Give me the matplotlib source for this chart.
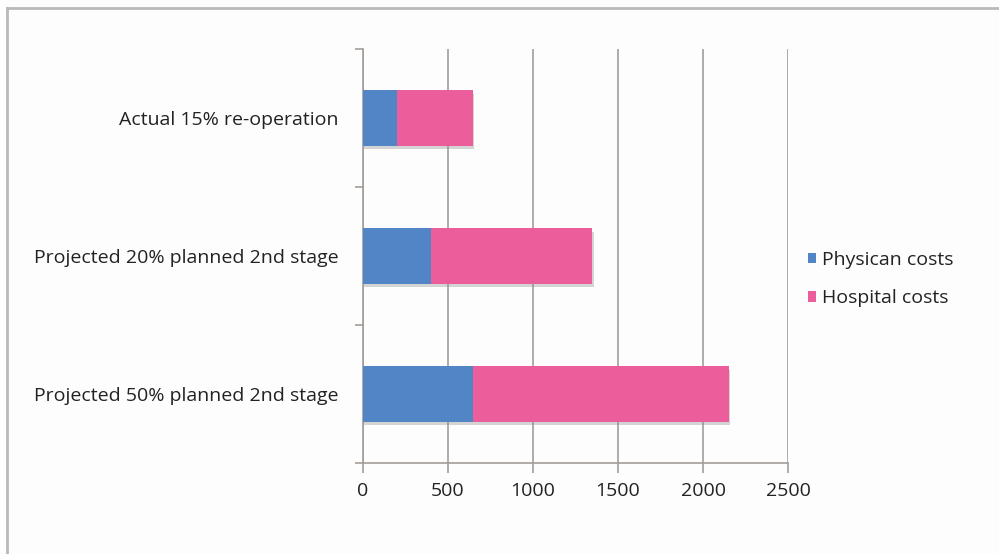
import matplotlib
matplotlib.use("Agg")
import matplotlib.pyplot as plt
import matplotlib.patheffects as pe
from matplotlib.lines import Line2D
import numpy as np

categories = ["Actual 15% re-operation", "Projected 20% planned 2nd stage", "Projected 50% planned 2nd stage"]
physician = [200, 400, 650]
hospital = [450, 950, 1500]
series_names = ["Physican costs", "Hospital costs"]
xticks = [0, 500, 1000, 1500, 2000, 2500]

blue = "#5285c6"
pink = "#ec5e9b"
grid_c = "#a39d99"

plt.rcParams['font.family'] = ['Open Sans', 'DejaVu Sans']

fig = plt.figure(figsize=(9.99, 5.54), dpi=100)
fig.patch.set_facecolor("#fdfdfd")

# outer frame
W, H = 999, 554
fig.add_artist(Line2D([7/W, 7/W], [0, 1 - 8/H], transform=fig.transFigure, color="#b9b9bd", lw=2))
fig.add_artist(Line2D([7/W, 1], [1 - 8/H, 1 - 8/H], transform=fig.transFigure, color="#b9b9bd", lw=2))

ax = fig.add_axes([362.5/W, 1 - 463/H, (788.3 - 362.5)/W, (463 - 49)/H])
ax.set_facecolor("#fdfdfd")

y = np.arange(len(categories))
shadow = [pe.SimplePatchShadow(offset=(0.8, -2.5), shadow_rgbFace="#888888", alpha=0.35), pe.Normal()]
b1 = ax.barh(y, physician, height=0.4, color=blue, label=series_names[0], zorder=3)
b2 = ax.barh(y, hospital, left=physician, height=0.4, color=pink, label=series_names[1], zorder=3)
for bars in (b1, b2):
    for b in bars:
        b.set_path_effects(shadow)

ax.set_xlim(0, 2500)
ax.set_ylim(len(categories) - 0.5, -0.5)
ax.set_xticks(xticks)
ax.set_xticklabels([str(v) for v in xticks])
ax.xaxis.grid(True, color=grid_c, lw=1.2, zorder=0)
ax.set_axisbelow(True)

ax.set_yticks(y)
ax.set_yticklabels(categories)
ax.set_yticks(np.arange(-0.5, len(categories)), minor=True)
ax.tick_params(axis='y', which='major', length=0, pad=17, labelsize=14, labelcolor="#222222")
ax.tick_params(axis='y', which='minor', length=6, color=grid_c, width=1.2)
ax.tick_params(axis='x', length=7, color=grid_c, width=1.2, labelsize=14, labelcolor="#222222", pad=7)

for s in ("top", "right"):
    ax.spines[s].set_visible(False)
for s in ("left", "bottom"):
    ax.spines[s].set_color(grid_c)
    ax.spines[s].set_linewidth(1.2)

leg = fig.legend(handles=[b1, b2], labels=series_names, loc="center left",
                 bbox_to_anchor=(790/W, 1 - 279/H), frameon=False, fontsize=14,
                 handlelength=0.45, handleheight=0.45, handletextpad=0.3, labelspacing=1.05)
for t in leg.get_texts():
    t.set_color("#222222")
for h in leg.legend_handles:
    h.set_path_effects([])

fig.savefig("out.png", dpi=100, facecolor=fig.get_facecolor())
